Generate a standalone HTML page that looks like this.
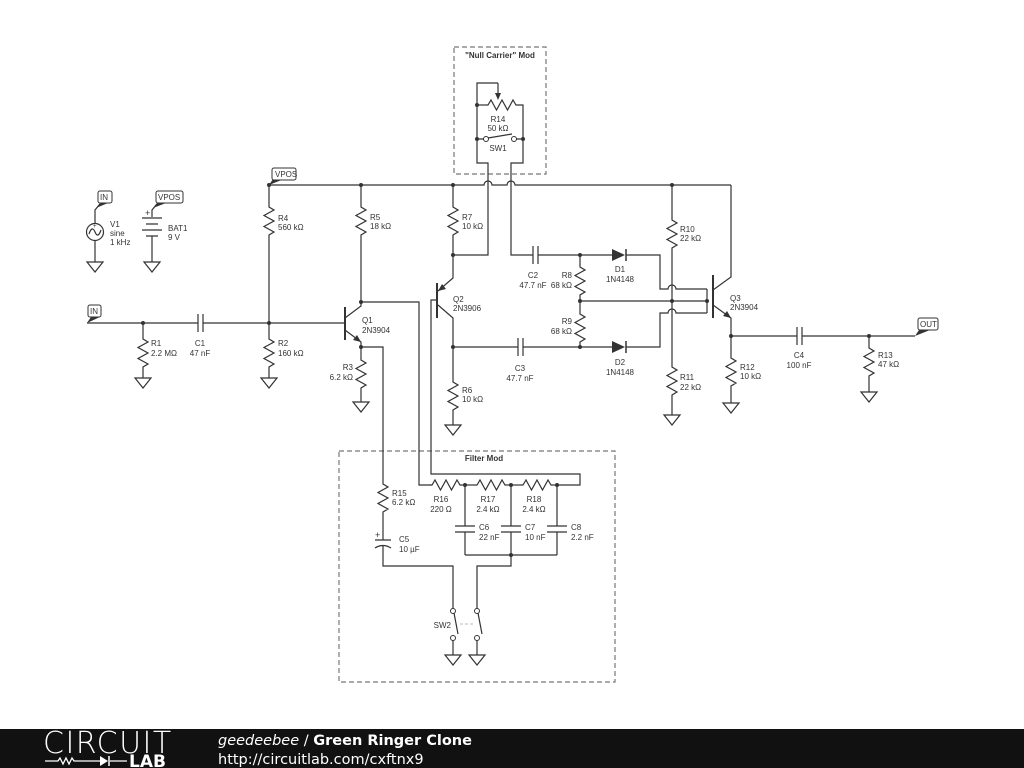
<!DOCTYPE html>
<html><head><meta charset="utf-8"><style>
html,body{margin:0;padding:0;background:#fff;}
svg{display:block;}
text{font-family:"Liberation Sans",Arial,sans-serif;font-size:8px;fill:#333;}
.w{fill:none;stroke:#333;stroke-width:1.2;}
.t{font-weight:bold;}
</style></head><body>
<svg width="1024" height="768" viewBox="0 0 1024 768" xmlns="http://www.w3.org/2000/svg">
<defs>
<path id="rv" class="w" d="M0,0 L0,2 L5,5 L-5,10.5 L5,16 L-5,21.5 L5,27 L0,30 L0,32"/>
<path id="rh" class="w" d="M0,0 L2,0 L5,-5 L10.5,5 L16,-5 L21.5,5 L27,-5 L30,0 L32,0"/>
<path id="gnd" class="w" d="M-8,0 L8,0 L0,10 Z"/>
<circle id="dot" r="2" fill="#333"/>
</defs>

<rect x="454" y="47" width="92" height="127" fill="none" stroke="#777" stroke-width="1.2" stroke-dasharray="5,3"/>
<text x="500" y="58" text-anchor="middle" class="t">"Null Carrier" Mod</text>
<rect x="339" y="451" width="276" height="231" fill="none" stroke="#777" stroke-width="1.2" stroke-dasharray="5,3"/>
<text x="484" y="461" text-anchor="middle" class="t">Filter Mod</text>

<path class="w" d="M269,185 H484 a4,4 0 0 1 8,0 H507 a4,4 0 0 1 8,0 H731"/>
<use href="#dot" x="269" y="185"/><use href="#dot" x="361" y="185"/><use href="#dot" x="453" y="185"/><use href="#dot" x="672" y="185"/>

<g>
<path d="M269,185 L273,179 L284,179 Z" fill="#333"/>
<rect x="272" y="168" width="24" height="12" rx="2" fill="#fff" stroke="#333" stroke-width="1"/>
<text x="275" y="177">VPOS</text>
</g>
<g>
<path d="M87,323 L91,317 L100,317 Z" fill="#333"/>
<rect x="88" y="305" width="13" height="12" rx="2" fill="#fff" stroke="#333" stroke-width="1"/>
<text x="90" y="314">IN</text>
</g>
<g>
<path class="w" d="M95,224 V210 L100,204"/>
<path d="M96,208 L100,203 L108,203 Z" fill="#333"/>
<rect x="98" y="191" width="14" height="12" rx="2" fill="#fff" stroke="#333" stroke-width="1"/>
<text x="100" y="200">IN</text>
</g>
<g>
<path class="w" d="M152,217 V210 L157,204"/>
<path d="M153,208 L157,203 L166,203 Z" fill="#333"/>
<rect x="156" y="191" width="27" height="12" rx="2" fill="#fff" stroke="#333" stroke-width="1"/>
<text x="158" y="200">VPOS</text>
</g>
<g>
<path d="M915,336 L919,330 L930,330 Z" fill="#333"/>
<rect x="918" y="318" width="20" height="12" rx="2" fill="#fff" stroke="#333" stroke-width="1"/>
<text x="920" y="327">OUT</text>
</g>

<circle cx="95" cy="232" r="8.5" class="w"/>
<path class="w" d="M89,234 q3,-9 6,-2 t6,-2"/>
<text x="93" y="228" style="font-size:6px">+</text>
<path class="w" d="M95,240.5 V262"/>
<use href="#gnd" x="95" y="262"/>
<text x="110" y="227">V1</text><text x="110" y="236">sine</text><text x="110" y="245">1 kHz</text>
<path class="w" d="M142,218 H162 M146,224 H158 M142,230 H162 M146,236 H158 M152,236 V262"/>
<text x="145" y="216" style="font-size:9px">+</text>
<use href="#gnd" x="152" y="262"/>
<text x="168" y="231">BAT1</text><text x="168" y="240">9 V</text>

<path class="w" d="M87,323 H198 M203,323 H345"/>
<path class="w" d="M198,314 V332 M203,314 V332"/>
<text x="200" y="346" text-anchor="middle">C1</text><text x="200" y="356" text-anchor="middle">47 nF</text>
<use href="#dot" x="143" y="323"/><use href="#dot" x="269" y="323"/>
<path class="w" d="M143,323 V337 M143,369 V378"/><use href="#rv" x="143" y="337"/><use href="#gnd" x="143" y="378"/>
<text x="151" y="346">R1</text><text x="151" y="356">2.2 MΩ</text>
<path class="w" d="M269,185 V205 M269,237 V323 M269,323 V337 M269,369 V378"/>
<use href="#rv" x="269" y="205"/><use href="#rv" x="269" y="337"/><use href="#gnd" x="269" y="378"/>
<text x="278" y="221">R4</text><text x="278" y="230">560 kΩ</text>
<text x="278" y="346">R2</text><text x="278" y="356">160 kΩ</text>

<path d="M345,307 V340" stroke="#333" stroke-width="2"/>
<path class="w" d="M345,318 L361,306 V302 M345,330 L361,342 V347"/>
<path d="M361,342 L353,340 L357,335 Z" fill="#333"/>
<text x="362" y="323">Q1</text><text x="362" y="333">2N3904</text>
<path class="w" d="M361,185 V205 M361,237 V302"/><use href="#rv" x="361" y="205"/>
<text x="370" y="220">R5</text><text x="370" y="229">18 kΩ</text>
<use href="#dot" x="361" y="302"/><use href="#dot" x="361" y="347"/>
<path class="w" d="M361,347 V358 M361,390 V402"/><use href="#rv" x="361" y="358"/><use href="#gnd" x="361" y="402"/>
<text x="353" y="370" text-anchor="end">R3</text><text x="353" y="380" text-anchor="end">6.2 kΩ</text>
<path class="w" d="M361,302 H419 V485 H431"/>
<path class="w" d="M361,347 H383 V482"/>

<path class="w" d="M453,185 V205 M453,237 V278 L438,291"/><use href="#rv" x="453" y="205"/>
<path d="M438,291 L442,284 L446,289 Z" fill="#333"/>
<text x="462" y="220">R7</text><text x="462" y="229">10 kΩ</text>
<path d="M437,283 V318" stroke="#333" stroke-width="2"/>
<path class="w" d="M438,305 L453,318 V380 M453,412 V425"/>
<use href="#rv" x="453" y="380"/><use href="#gnd" x="453" y="425"/>
<text x="453" y="302">Q2</text><text x="453" y="311">2N3906</text>
<text x="462" y="393">R6</text><text x="462" y="402">10 kΩ</text>
<use href="#dot" x="453" y="255"/><use href="#dot" x="453" y="347"/>
<path class="w" d="M453,255 H488 V163 H477 V83 H498"/>
<path class="w" d="M498,83 V96"/><path d="M498,100 L495,93 L501,93 Z" fill="#333"/>
<path class="w" d="M477,105 H486"/><use href="#rh" x="486" y="105"/>
<path class="w" d="M518,105 H523 V163 H511 V255 H533"/>
<path class="w" d="M477,139 H483.5 M516.5,139 H523 M488,138 L512,134"/>
<circle cx="486" cy="139" r="2.5" fill="#fff" stroke="#333" stroke-width="1"/>
<circle cx="514" cy="139" r="2.5" fill="#fff" stroke="#333" stroke-width="1"/>
<use href="#dot" x="477" y="105"/><use href="#dot" x="477" y="139"/><use href="#dot" x="523" y="139"/>
<text x="498" y="122" text-anchor="middle">R14</text><text x="498" y="131" text-anchor="middle">50 kΩ</text>
<text x="498" y="151" text-anchor="middle">SW1</text>
<path class="w" d="M436,300 H431 V474 H580 V485 H557"/>

<path class="w" d="M533,246 V264 M538,246 V264 M538,255 H612"/>
<text x="533" y="278" text-anchor="middle">C2</text><text x="533" y="288" text-anchor="middle">47.7 nF</text>
<use href="#dot" x="580" y="255"/>
<path d="M612,249 L612,261 L625,255 Z" fill="#333"/><path d="M626,249 V261" stroke="#333" stroke-width="1.5"/>
<text x="620" y="272" text-anchor="middle">D1</text><text x="620" y="282" text-anchor="middle">1N4148</text>
<path class="w" d="M626,255 H660 V289 H668 a4,4 0 0 1 8,0 H707"/>
<path class="w" d="M580,255 V265 M580,297 V312 M580,344 V347"/>
<use href="#rv" x="580" y="265"/><use href="#rv" x="580" y="312"/>
<use href="#dot" x="580" y="301"/>
<text x="572" y="278" text-anchor="end">R8</text><text x="572" y="288" text-anchor="end">68 kΩ</text>
<text x="572" y="324" text-anchor="end">R9</text><text x="572" y="334" text-anchor="end">68 kΩ</text>
<path class="w" d="M580,301 H707"/>
<path class="w" d="M453,347 H518 M518,338 V356 M523,338 V356 M523,347 H612"/>
<use href="#dot" x="580" y="347"/>
<text x="520" y="371" text-anchor="middle">C3</text><text x="520" y="381" text-anchor="middle">47.7 nF</text>
<path d="M612,341 L612,353 L625,347 Z" fill="#333"/><path d="M626,341 V353" stroke="#333" stroke-width="1.5"/>
<text x="620" y="365" text-anchor="middle">D2</text><text x="620" y="375" text-anchor="middle">1N4148</text>
<path class="w" d="M626,347 H660 V313 H668 a4,4 0 0 1 8,0 H707"/>
<path class="w" d="M707,289 V313"/>
<use href="#dot" x="707" y="301"/><use href="#dot" x="672" y="301"/>

<path class="w" d="M672,185 V218 M672,250 V365 M672,397 V415"/>
<use href="#rv" x="672" y="218"/><use href="#rv" x="672" y="365"/><use href="#gnd" x="672" y="415"/>
<text x="680" y="232">R10</text><text x="680" y="241">22 kΩ</text>
<text x="680" y="380">R11</text><text x="680" y="390">22 kΩ</text>

<path d="M713,275 V318" stroke="#333" stroke-width="2"/>
<path class="w" d="M713,290 L731,277 V185 M713,305 L731,318 V336"/>
<path d="M731,318 L723,316 L727,311 Z" fill="#333"/>
<text x="730" y="301">Q3</text><text x="730" y="310">2N3904</text>
<use href="#dot" x="731" y="336"/>
<path class="w" d="M731,336 V356 M731,388 V403"/><use href="#rv" x="731" y="356"/><use href="#gnd" x="731" y="403"/>
<text x="740" y="370">R12</text><text x="740" y="379">10 kΩ</text>
<path class="w" d="M731,336 H797 M797,327 V345 M802,327 V345 M802,336 H915"/>
<text x="799" y="358" text-anchor="middle">C4</text><text x="799" y="368" text-anchor="middle">100 nF</text>
<use href="#dot" x="869" y="336"/>
<path class="w" d="M869,336 V346 M869,378 V392"/><use href="#rv" x="869" y="346"/><use href="#gnd" x="869" y="392"/>
<text x="878" y="358">R13</text><text x="878" y="367">47 kΩ</text>

<use href="#rv" x="383" y="482"/>
<text x="392" y="496">R15</text><text x="392" y="505">6.2 kΩ</text>
<path class="w" d="M383,514 V540 M375,540 H391 M375,548 Q383,543 391,548 M383,546 V566 H453 V609"/>
<text x="375" y="538" style="font-size:9px">+</text>
<text x="399" y="542">C5</text><text x="399" y="552">10 µF</text>
<use href="#rh" x="430" y="485"/>
<path class="w" d="M462,485 H475"/><use href="#rh" x="475" y="485"/>
<path class="w" d="M507,485 H521"/><use href="#rh" x="521" y="485"/>
<path class="w" d="M553,485 H557"/>
<use href="#dot" x="465" y="485"/><use href="#dot" x="511" y="485"/><use href="#dot" x="557" y="485"/>
<text x="441" y="502" text-anchor="middle">R16</text><text x="441" y="512" text-anchor="middle">220 Ω</text>
<text x="488" y="502" text-anchor="middle">R17</text><text x="488" y="512" text-anchor="middle">2.4 kΩ</text>
<text x="534" y="502" text-anchor="middle">R18</text><text x="534" y="512" text-anchor="middle">2.4 kΩ</text>
<path class="w" d="M465,485 V526 M455,526 H475 M455,532 H475 M465,532 V555 M511,485 V526 M501,526 H521 M501,532 H521 M511,532 V555 M557,485 V526 M547,526 H567 M547,532 H567 M557,532 V555 M465,555 H557"/>
<use href="#dot" x="511" y="555"/>
<text x="479" y="530">C6</text><text x="479" y="540">22 nF</text>
<text x="525" y="530">C7</text><text x="525" y="540">10 nF</text>
<text x="571" y="530">C8</text><text x="571" y="540">2.2 nF</text>
<path class="w" d="M511,555 V566 H477 V609"/>
<circle cx="453" cy="611" r="2.5" fill="#fff" stroke="#333" stroke-width="1"/>
<circle cx="453" cy="638" r="2.5" fill="#fff" stroke="#333" stroke-width="1"/>
<circle cx="477" cy="611" r="2.5" fill="#fff" stroke="#333" stroke-width="1"/>
<circle cx="477" cy="638" r="2.5" fill="#fff" stroke="#333" stroke-width="1"/>
<path class="w" d="M454,613 L458,634 M478,613 L482,634 M453,640.5 V655 M477,640.5 V655"/>
<path d="M460,624 H474" stroke="#bbb" stroke-width="1" stroke-dasharray="3,2"/>
<use href="#gnd" x="453" y="655"/><use href="#gnd" x="477" y="655"/>
<text x="451" y="628" text-anchor="end">SW2</text>

<rect x="0" y="729" width="1024" height="39" fill="#111"/>
<text x="43" y="753" style="font-size:30px;fill:#fff;font-family:'DejaVu Sans',sans-serif;font-weight:200;letter-spacing:1.5px">CIRCUIT</text>
<path d="M45,761 H58 l2,-3 3,6 3,-6 3,6 3,-6 2,3 H100 M110,761 H127" stroke="#fff" stroke-width="1.3" fill="none"/>
<path d="M100,756 L100,766 L108,761 Z" fill="#fff"/><path d="M109,756 V766" stroke="#fff" stroke-width="1.5"/>
<text x="129" y="767" style="font-size:17px;fill:#fff;font-weight:bold;font-family:'DejaVu Sans',sans-serif">LAB</text>
<text x="218" y="745" style="font-size:14.5px;fill:#fff;font-family:'DejaVu Sans',sans-serif"><tspan font-style="italic">geedeebee</tspan> / <tspan font-weight="bold">Green Ringer Clone</tspan></text>
<text x="218" y="764" style="font-size:14.5px;fill:#fff;font-family:'DejaVu Sans',sans-serif">http://circuitlab.com/cxftnx9</text>
</svg>
</body></html>
